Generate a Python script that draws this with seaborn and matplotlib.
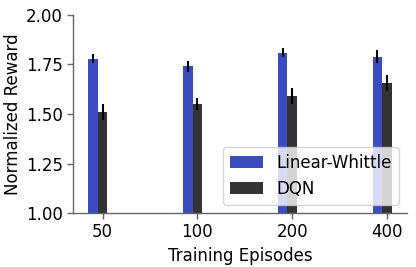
import pandas as pd
import matplotlib
matplotlib.use("Agg")
import matplotlib.pyplot as plt
import seaborn as sns

# Values
episodes = ["50", "100", "200", "400"]
methods = ["Linear-Whittle", "DQN"]
whittle_mean = [1.78, 1.74, 1.81, 1.79]
whittle_err = [0.025, 0.028, 0.024, 0.032]
dqn_mean = [1.51, 1.55, 1.59, 1.655]
dqn_err = [0.038, 0.030, 0.042, 0.040]

df = pd.DataFrame({
    "episodes": episodes * 2,
    "method": [methods[0]] * 4 + [methods[1]] * 4,
    "reward": whittle_mean + dqn_mean,
    "err": whittle_err + dqn_err,
})

sns.set_style("white", {"text.color": "black", "axes.labelcolor": "black",
                        "xtick.color": "black", "ytick.color": "black"})
plt.rcParams["font.family"] = ["DejaVu Sans"]

fig, ax = plt.subplots(figsize=(4.16, 2.67), dpi=100)
# an empty third hue slot keeps the pair left of each tick, as in the original
sns.barplot(data=df, x="episodes", y="reward", hue="method", order=episodes,
            hue_order=methods + [" "], palette=["#3b4cc0", "#333333", "white"],
            width=0.3, errorbar=None, ax=ax, saturation=1, linewidth=0)

# error bars placed at the centres of the drawn bars
for container, m in zip(ax.containers, methods):
    sub = df[df["method"] == m].set_index("episodes").loc[episodes]
    xs = [p.get_x() + p.get_width() / 2 for p in container.patches]
    ax.errorbar(xs, sub["reward"], yerr=sub["err"], fmt="none", ecolor="black",
                elinewidth=1.5, capsize=0)

ax.set_ylim(1.0, 2.0)
ax.set_yticks([1.0, 1.25, 1.5, 1.75, 2.0])
ax.set_yticklabels(["1.00", "1.25", "1.50", "1.75", "2.00"])
ax.set_xlim(-0.31, 3.21)
ax.set_xlabel("Training Episodes", fontsize=12)
ax.set_ylabel("Normalized Reward", fontsize=12, labelpad=3)
ax.tick_params(labelsize=12, length=4, width=1, color="#666666",
               labelcolor="black", left=True, bottom=True)
sns.despine(ax=ax)
for s in ["left", "bottom"]:
    ax.spines[s].set_color("#666666")
    ax.spines[s].set_linewidth(1)

handles, labels = ax.get_legend_handles_labels()
ax.legend(handles[:2], labels[:2], loc="lower right", fontsize=12)

fig.subplots_adjust(left=0.176, right=0.978, top=0.944, bottom=0.202)
fig.savefig("out.png", dpi=100)
